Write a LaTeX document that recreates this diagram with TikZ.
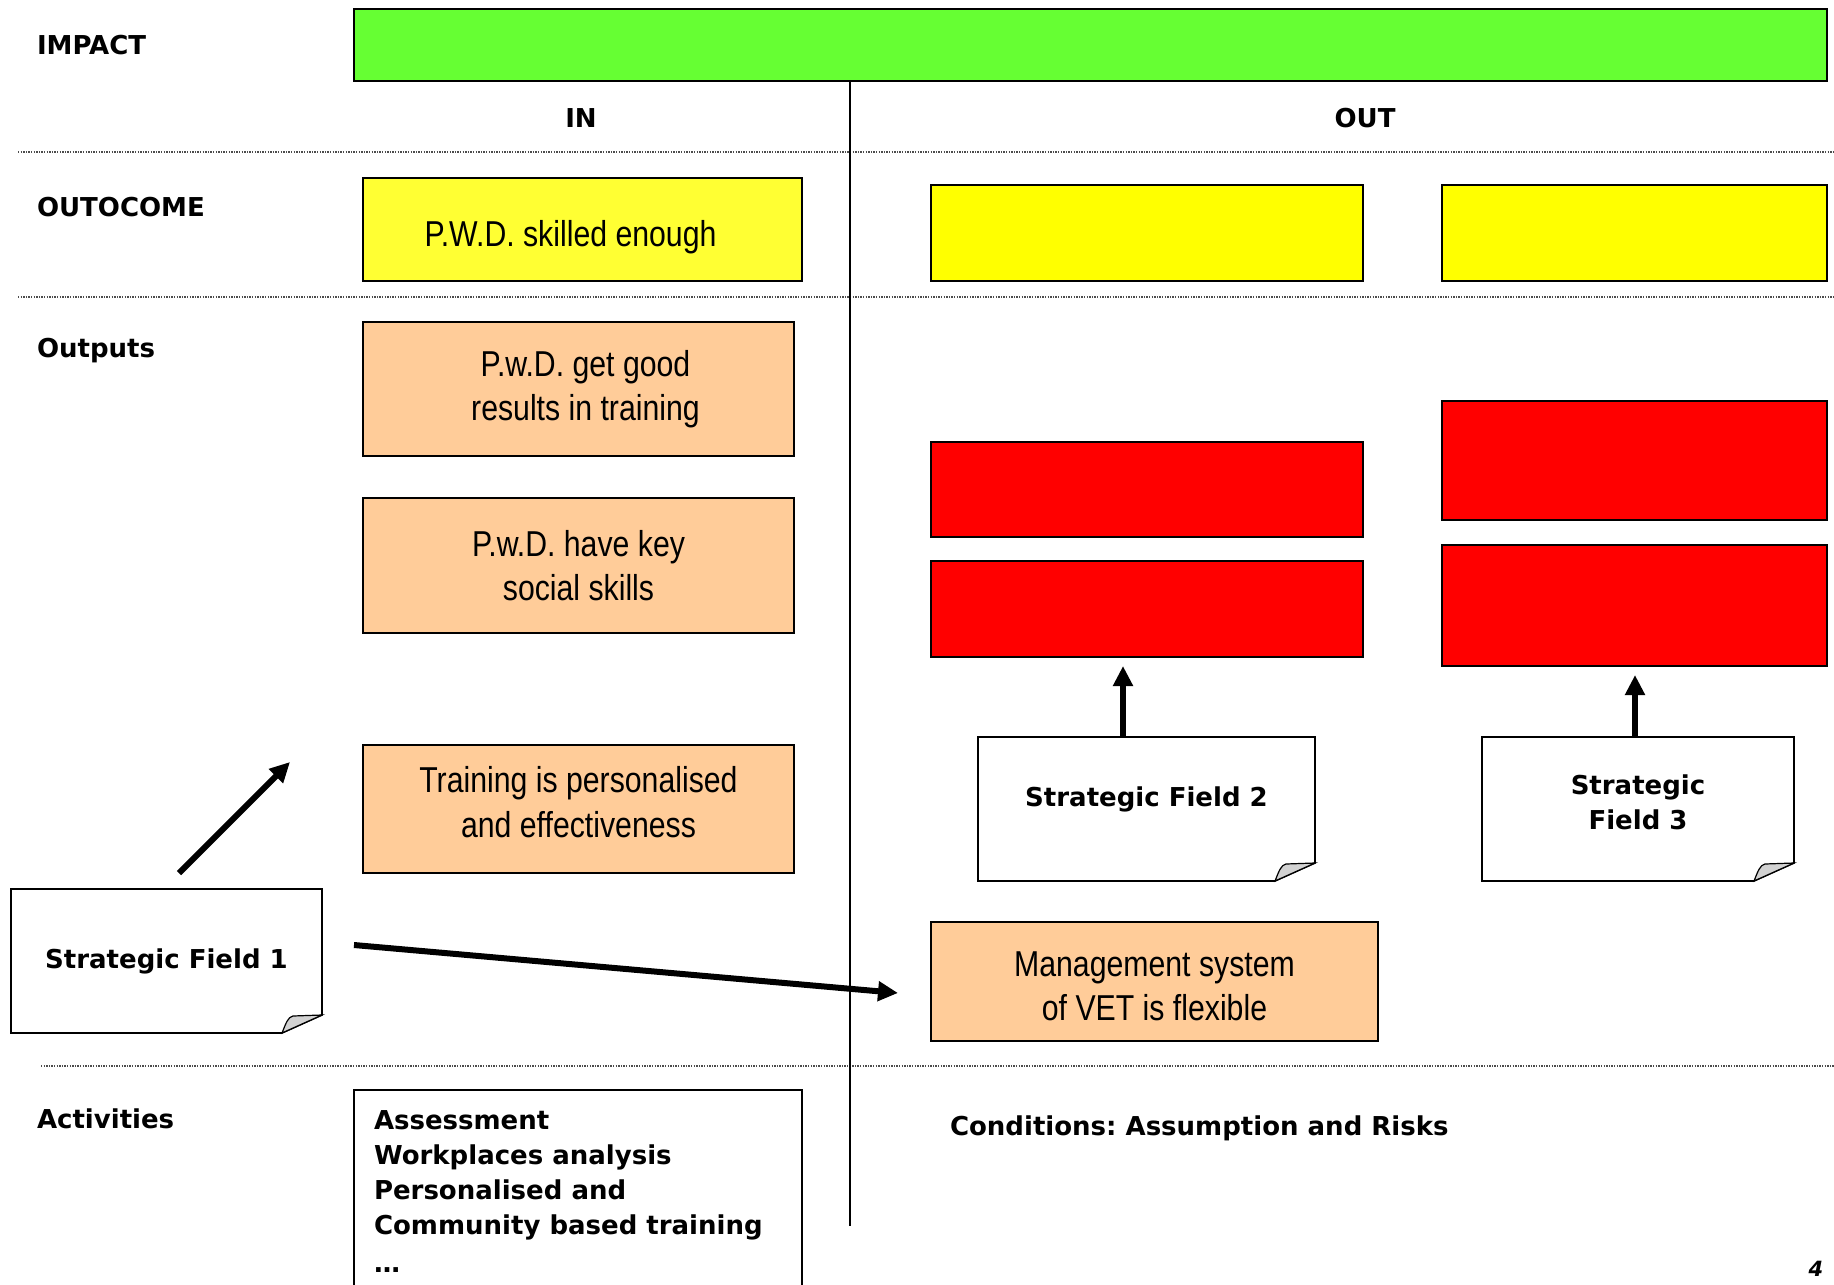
\documentclass[tikz,border=0pt]{standalone}
\usepackage{fontspec}
\setmainfont{DejaVu Sans}
\newfontfamily\arl{Liberation Sans}[FakeStretch=0.84]
\usetikzlibrary{arrows.meta}
\frenchspacing
\definecolor{impactgreen}{HTML}{66FF33}
\definecolor{yel}{HTML}{FFFF33}
\definecolor{yelb}{HTML}{FFFF00}
\definecolor{org}{HTML}{FFCC99}
\definecolor{redb}{HTML}{FF0000}
\newcommand\foldnote[1]{%
  \draw[line width=1.6pt] (#1.north west) -- (#1.north east) -- ([yshift=18pt]#1.south east)
     -- ([xshift=-40pt]#1.south east) -- (#1.south west) -- cycle;
  \draw[line width=1.2pt,fill=gray!35] ([xshift=-40pt]#1.south east)
     .. controls ([xshift=-36pt,yshift=10pt]#1.south east) and ([xshift=-34pt,yshift=16pt]#1.south east) .. ([xshift=-29pt,yshift=17pt]#1.south east)
     -- ([yshift=18pt]#1.south east) -- cycle;}
\begin{document}
\begin{tikzpicture}[x=1pt,y=-1pt,
  every node/.style={inner sep=0pt,outer sep=0pt},
  box/.style={draw=black,line width=1.8pt,anchor=north west,align=center},
  arltext/.style={font=\arl\fontsize{36}{44.5}\selectfont},
  bold/.style={font=\bfseries\fontsize{26}{35}\selectfont},
  rowlabel/.style={bold,anchor=west},
  dotline/.style={line width=1.3pt,black!70,dash pattern=on 1.3pt off 1.3pt},
  note/.style={anchor=north west,align=center,bold},
  arr/.style={line width=6pt,-{Triangle[length=20pt,width=19pt]}}]
\useasboundingbox (0,0) rectangle (1834,1285);
\fill[white] (0,0) rectangle (1834,1285);

% separators
\draw[dotline] (18,152) -- (1834,152);
\draw[dotline] (18,297) -- (1834,297);
\draw[dotline] (41,1066) -- (1834,1066);

% impact bar
\node[box,fill=impactgreen,minimum width=1473pt,minimum height=72pt] (impact) at (354,9) {};
\draw[line width=1.5pt] (850,81) -- (850,1226);

% row labels
\node[rowlabel] (limpact) at (37,45) {IMPACT};
\node[rowlabel] (loutcome) at (37,207) {OUTOCOME};
\node[rowlabel] (loutputs) at (37,351) {Outputs};
\node[rowlabel] (lact) at (37,1119) {Activities};
\node[bold] (lin) at (581,118) {IN};
\node[bold] (lout) at (1365,118) {OUT};

% outcomes
\node[box,arltext,fill=yel,minimum width=439pt,minimum height=103pt] (y1) at (363,178) {\raisebox{-8pt}[\height][\depth]{P.W.D. skilled enough}\hspace*{24pt}};
\node[box,fill=yelb,minimum width=432pt,minimum height=96pt] (y2) at (931,185) {};
\node[box,fill=yelb,minimum width=385pt,minimum height=96pt] (y3) at (1442,185) {};

% outputs IN
\node[box,arltext,fill=org,minimum width=431pt,minimum height=134pt] (o1) at (363,322) {\hspace*{14pt}P.w.D. get good\\\hspace*{14pt}results in training};
\node[box,arltext,fill=org,minimum width=431pt,minimum height=135pt] (o2) at (363,498) {P.w.D. have key\\social skills};
\node[box,arltext,fill=org,minimum width=431pt,minimum height=128pt] (o3) at (363,745) {Training is personalised\\and effectiveness\\[-30pt]};

% outputs OUT
\node[box,fill=redb,minimum width=432pt,minimum height=95pt] (r1) at (931,442) {};
\node[box,fill=redb,minimum width=432pt,minimum height=96pt] (r2) at (931,561) {};
\node[box,fill=redb,minimum width=385pt,minimum height=119pt] (r3) at (1442,401) {};
\node[box,fill=redb,minimum width=385pt,minimum height=121pt] (r4) at (1442,545) {};
\node[box,arltext,fill=org,minimum width=447pt,minimum height=119pt] (mg) at (931,922) {\raisebox{-8pt}[\height][\depth]{\begin{tabular}{@{}c@{}}Management system\\of VET is flexible\end{tabular}}};

% strategic fields
\node[note,minimum width=311pt,minimum height=144pt] (sf1) at (11,889) {Strategic Field 1};
\node[note,minimum width=337pt,minimum height=144pt] (sf2) at (978,737) {Strategic Field 2\\[-11pt]};
\node[note,minimum width=312pt,minimum height=144pt] (sf3) at (1482,737) {Strategic\\Field 3\\[-21pt]};
\foldnote{sf1}
\foldnote{sf2}
\foldnote{sf3}

% arrows
\coordinate (d1) at (179,873);
\coordinate (d2) at (290,762);
\draw[arr] (d1) -- (d2);
\draw[arr] ([xshift=32pt,yshift=16pt]sf1.east) -- ([xshift=-33pt,yshift=-11.5pt]mg.west);
\draw[arr] ([xshift=-23.5pt]sf2.north) -- ([xshift=-24pt,yshift=-9pt]r2.south);
\draw[arr] ([xshift=-3pt]sf3.north) -- ([xshift=0.5pt,yshift=-9pt]r4.south);

% activities
\draw[line width=1.8pt] (354,1300) -- (354,1090) -- (802,1090) -- (802,1300);
\node[bold,anchor=north west,align=left] (acts) at (374,1111) {Assessment\\Workplaces analysis\\Personalised and\\Community based training\\[3pt]\ldots};

\node[bold,anchor=west] (cond) at (950,1128) {Conditions: Assumption and Risks};
\node[font=\bfseries\itshape\fontsize{21}{24}\selectfont] (pg) at (1816,1269) {4};
\end{tikzpicture}
\end{document}
